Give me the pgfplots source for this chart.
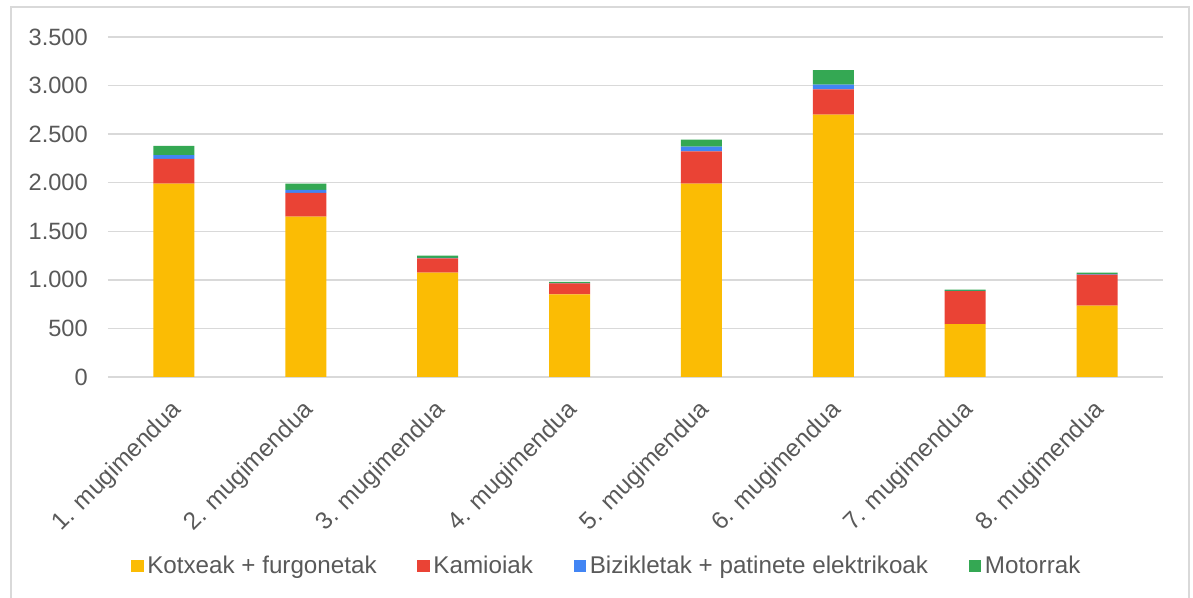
\documentclass[border=0pt]{standalone}
\usepackage{pgfplots}
\pgfplotsset{compat=1.18}
\usepackage{pgfplotstable}
\usepackage{fontspec}
\setmainfont{Liberation Sans}
\definecolor{cyel}{HTML}{FBBC04}
\definecolor{cred}{HTML}{EA4335}
\definecolor{cblu}{HTML}{4285F4}
\definecolor{cgrn}{HTML}{34A853}
\definecolor{cgrid}{HTML}{D9D9D9}
\definecolor{ctxt}{HTML}{595959}
\pgfplotstableread{
x kotx kami bizi moto
0 1990 255 40 95
1 1650 245 30 65
2 1075 145 5 25
3 850 113 3 12
4 1990 333 48 72
5 2700 260 50 150
6 545 340 2 13
7 735 320 3 17
}\datatable
\begin{document}
\fontsize{11.8}{14}\selectfont
\begin{tikzpicture}
\useasboundingbox (-54pt,-110.5pt) rectangle (542.5pt,188.5pt);
\draw[cgrid, line width=0.6pt] (-48.5pt,-112pt) rectangle (540.5pt,185pt);
\begin{axis}[
  at={(0,0)}, anchor=south west,
  width=527.5pt, height=170pt, scale only axis,
  ybar stacked, bar width=20.5pt,
  xmin=-0.5, xmax=7.5, ymin=0, ymax=3500,
  ytick={0,500,...,3500},
  xtick={0,...,7},
  xticklabels={1. mugimendua,2. mugimendua,3. mugimendua,4. mugimendua,5. mugimendua,6. mugimendua,7. mugimendua,8. mugimendua},
  major tick length=0pt,
  axis line style={draw=none},
  ymajorgrids, major grid style={cgrid, line width=0.75pt},
  /pgf/number format/assume math mode=true,
  /pgf/number format/1000 sep={.},
  scaled y ticks=false,
  ticklabel style={font=\fontsize{11.8}{14}\selectfont, text=ctxt},
  yticklabel style={xshift=-6pt},
  xticklabel style={font=\fontsize{12.2}{14}\selectfont, rotate=45, anchor=east, xshift=-5pt, yshift=-12pt},
  legend columns=4,
  legend style={at={(0.4735,-0.556)}, anchor=center, draw=none, fill=none,
    font=\fontsize{12.1}{14}\selectfont, text=ctxt,
    /tikz/every even column/.append style={column sep=18.5pt},
    nodes={inner xsep=1.8pt}},
  legend image code/.code={\fill[#1] (0pt,-3.15pt) rectangle (6.3pt,3.15pt);},
]
\addplot[fill=cyel, draw=none] table[x=x, y=kotx] {\datatable};
\addplot[fill=cred, draw=none] table[x=x, y=kami] {\datatable};
\addplot[fill=cblu, draw=none] table[x=x, y=bizi] {\datatable};
\addplot[fill=cgrn, draw=none] table[x=x, y=moto] {\datatable};
\legend{Kotxeak + furgonetak, Kamioiak, Bizikletak + patinete elektrikoak, Motorrak}
\end{axis}
\end{tikzpicture}
\end{document}
